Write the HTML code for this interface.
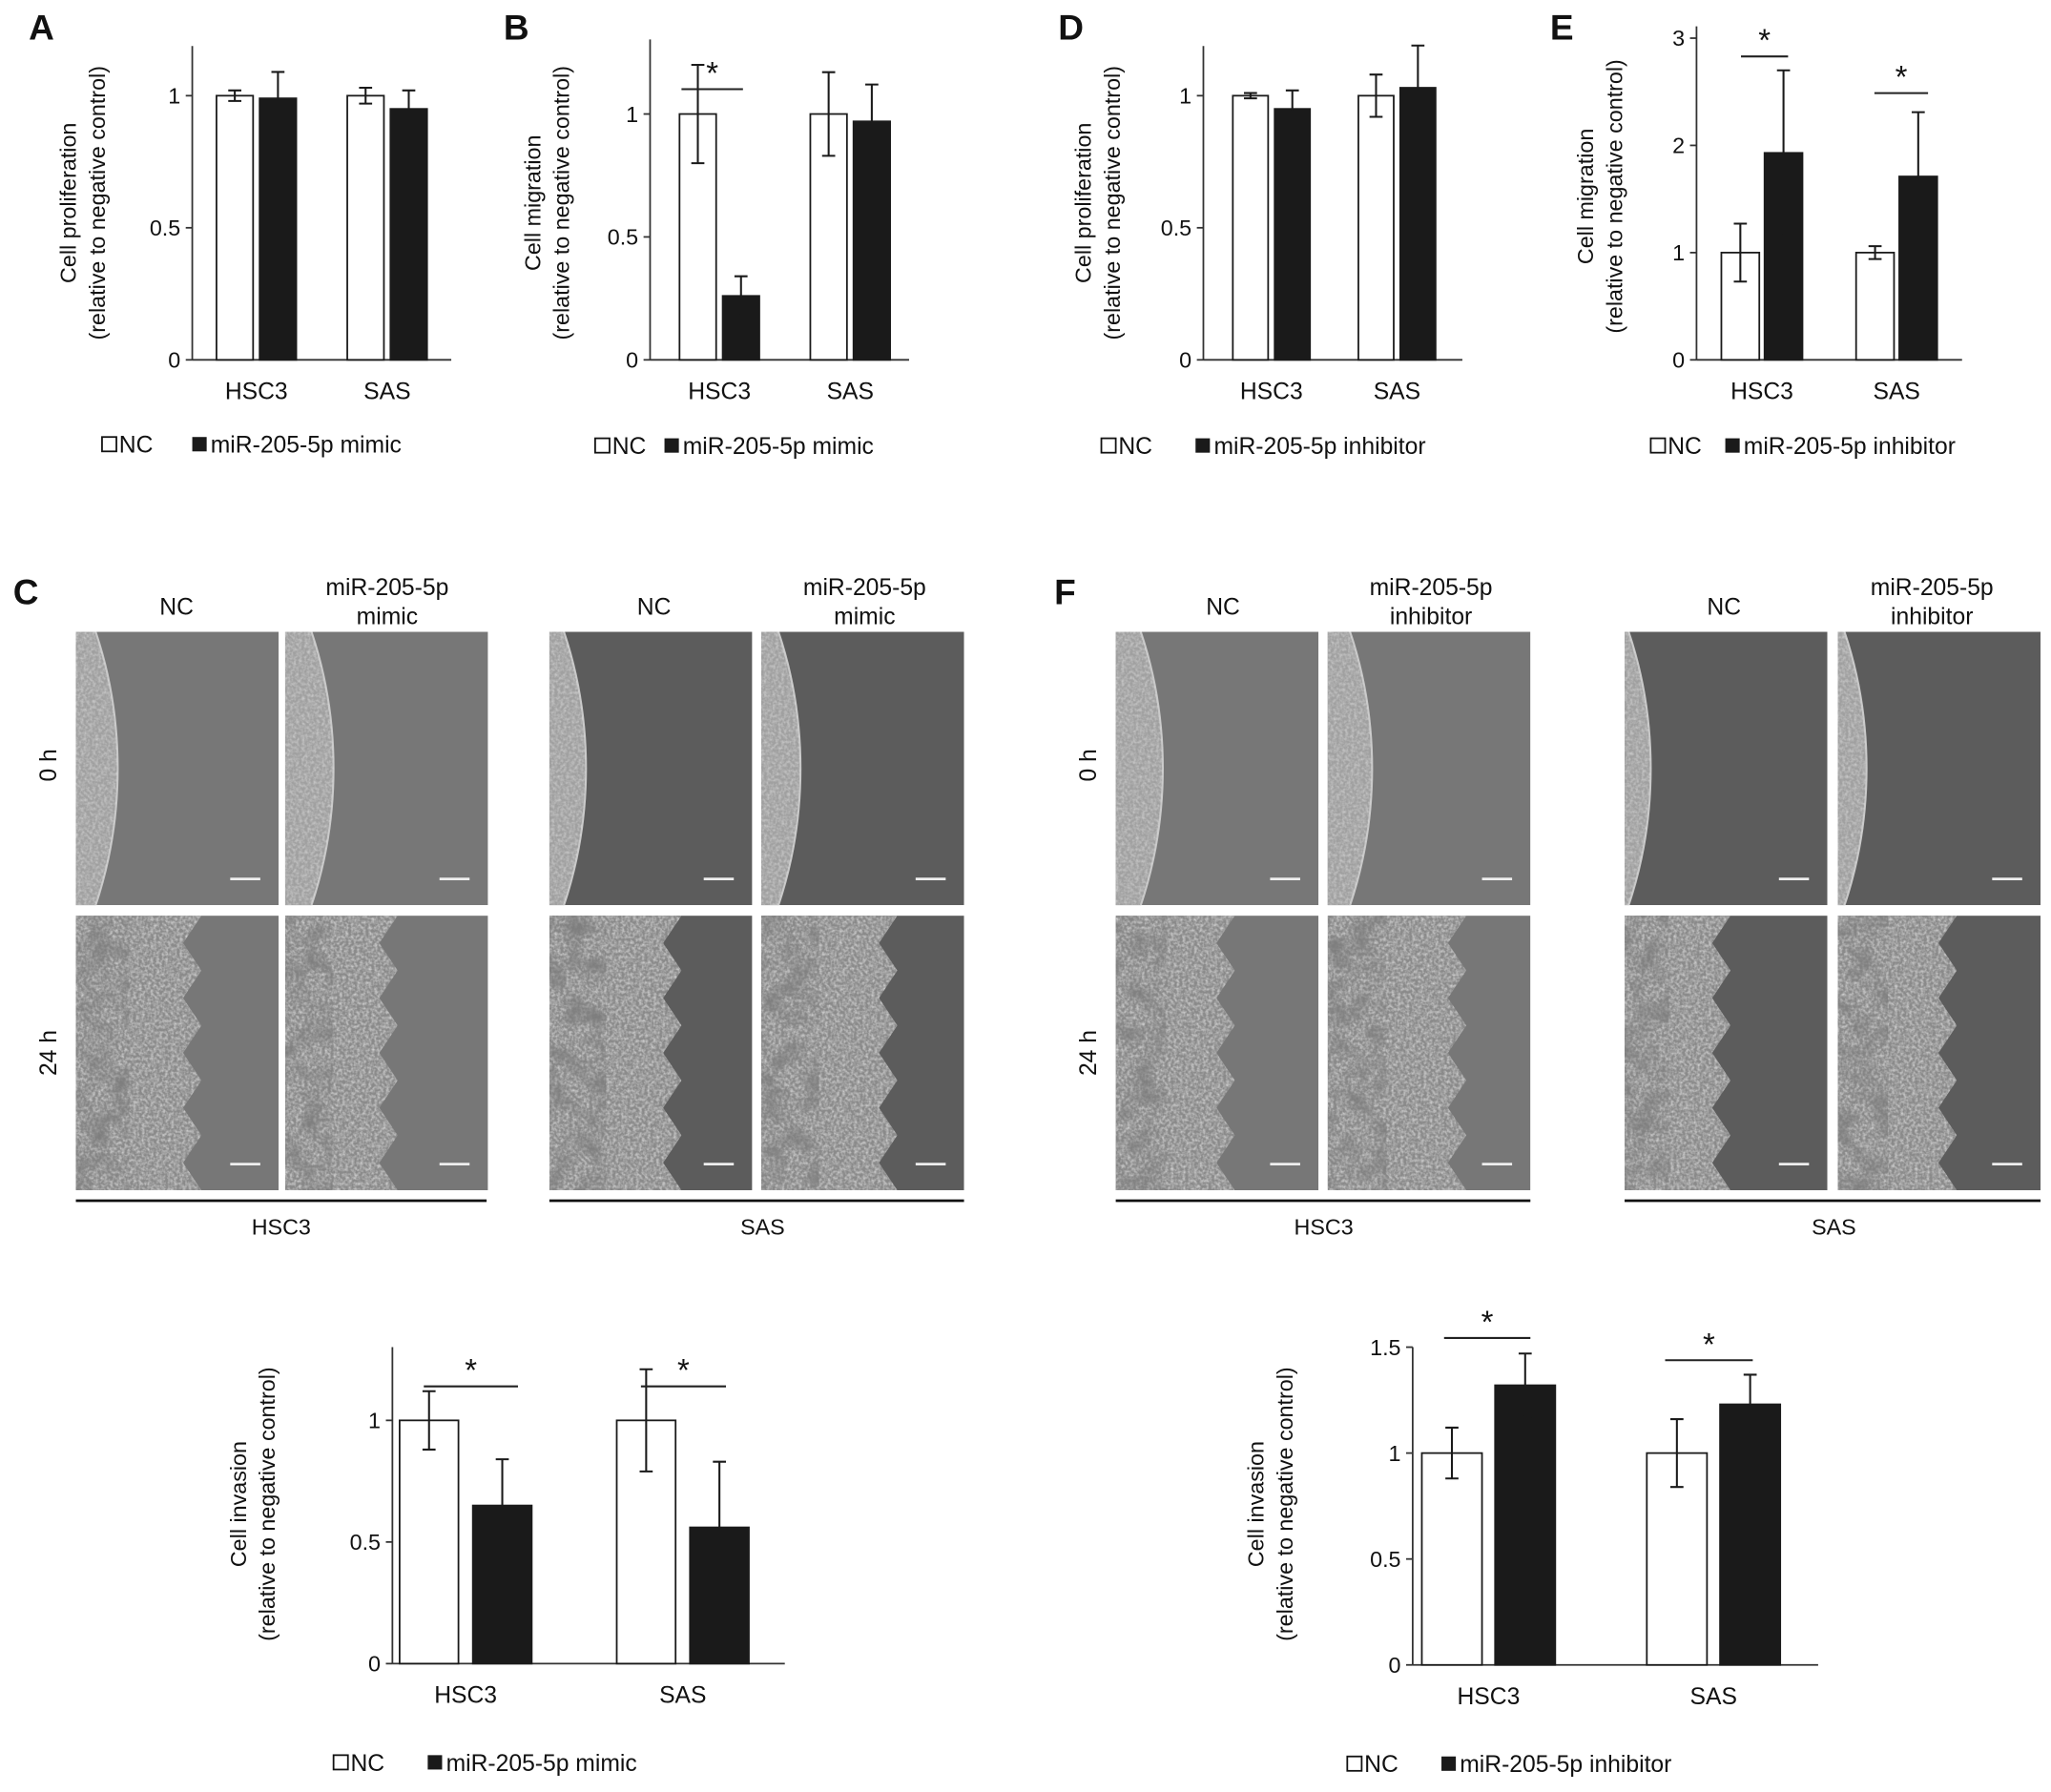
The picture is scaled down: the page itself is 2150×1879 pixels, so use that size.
<!DOCTYPE html>
<html><head><meta charset="utf-8"><style>
html,body{margin:0;padding:0;background:#fff}
svg{display:block}
text{font-family:"Liberation Sans",Arial,sans-serif;fill:#111}
</style></head><body>
<svg id="fig" width="2150" height="1879" viewBox="0 0 1568 1370" xmlns="http://www.w3.org/2000/svg">
<defs>
<filter id="noise" x="0" y="0" width="100%" height="100%">
<feTurbulence type="fractalNoise" baseFrequency="0.45" numOctaves="2" seed="3"/>
<feColorMatrix type="matrix" values="0 0 0 0 0.75  0 0 0 0 0.75  0 0 0 0 0.75  1.6 0 0 0 -0.55"/>
</filter>
<filter id="noise2" x="0" y="0" width="100%" height="100%">
<feTurbulence type="fractalNoise" baseFrequency="0.06" numOctaves="3" seed="7"/>
<feColorMatrix type="matrix" values="0 0 0 0 0.2  0 0 0 0 0.2  0 0 0 0 0.2  2.2 0 0 0 -0.9"/>
</filter>
</defs>
<g id="root"></g>
</svg>
<script>
// ---- data ----
const categories = ["HSC3","SAS"];
const aNC = [1.0, 1.0], aNCerr = [0.02, 0.03];
const aMimic = [0.99, 0.95], aMimicErr = [0.10, 0.07];
const bNC = [1.0, 1.0], bNCerr = [0.20, 0.17];
const bMimic = [0.26, 0.97], bMimicErr = [0.08, 0.15];
const dNC = [1.0, 1.0], dNCerr = [0.01, 0.08];
const dInh = [0.95, 1.03], dInhErr = [0.07, 0.16];
const eNC = [1.0, 1.0], eNCerr = [0.27, 0.06];
const eInh = [1.93, 1.71], eInhErr = [0.77, 0.60];
const cNC = [1.0, 1.0], cNCerr = [0.12, 0.21];
const cMimic = [0.65, 0.56], cMimicErr = [0.19, 0.27];
const fNC = [1.0, 1.0], fNCerr = [0.12, 0.16];
const fInh = [1.32, 1.23], fInhErr = [0.15, 0.14];
const ticksA = [0, 0.5, 1], ticksE = [0, 1, 2, 3], ticksF = [0, 0.5, 1, 1.5];

const NS = "http://www.w3.org/2000/svg";
const root = document.getElementById("root");
function el(tag, attrs, parent, txt){
  const e = document.createElementNS(NS, tag);
  for (const k in attrs) e.setAttribute(k, attrs[k]);
  if (txt !== undefined) e.textContent = txt;
  (parent || root).appendChild(e);
  return e;
}

function chart(cfg){
  const g = el("g", {});
  
  
  const y = v => cfg.y0 - v * cfg.unit;
  const ax = el("g", {}, g);
  
  
  el("line", {x1:cfg.ax, y1:cfg.top, x2:cfg.ax, y2:cfg.y0, stroke:"#333", "stroke-width":1.3}, ax);
  cfg.ticks.forEach(t=>{
    el("line", {x1:cfg.ax-5, y1:y(t), x2:cfg.ax, y2:y(t), stroke:"#333", "stroke-width":1.3}, ax);
    const tl = el("text", {x:cfg.ax-9, y:y(t)+6, "text-anchor":"end", "font-size":cfg.fs}, ax, String(t));
    
    
  });
  const xa = el("line", {x1:cfg.ax, y1:cfg.y0, x2:cfg.xend, y2:cfg.y0, stroke:"#333", "stroke-width":1.3}, g);
  
  
  const tt = el("text", {transform:`translate(${cfg.tx},${cfg.ty}) rotate(-90)`, "text-anchor":"middle", "font-size":cfg.fs}, g);
  
  
  el("tspan", {x:0, dy:0}, tt, cfg.title);
  el("tspan", {x:0, dy:cfg.fs*1.3}, tt, "(relative to negative control)");
  categories.forEach((c,i)=>{
    const cx = cfg.cat[i];
    [[cfg.nc, cfg.ncErr, "#fff", -1, "nc"], [cfg.tr, cfg.trErr, "#1a1a1a", 1, "treat"]].forEach(([vals, errs, fill, side, nm])=>{
      const x0 = side < 0 ? cx - cfg.gap/2 - cfg.bw : cx + cfg.gap/2;
      const b = el("rect", {x:x0, y:y(vals[i]), width:cfg.bw, height:cfg.y0 - y(vals[i]), fill:fill, stroke:"#1a1a1a", "stroke-width":1.3}, g);
      
      
      const mx = x0 + cfg.bw/2, hi = y(vals[i]+errs[i]), lo = y(vals[i]-errs[i]);
      const eb = el("path", {d:`M${mx},${hi}V${lo}M${mx-5},${hi}H${mx+5}M${mx-5},${lo}H${mx+5}`, stroke:"#1a1a1a", "stroke-width":1.5, fill:"none"}, g);
      
      
    });
    const cl = el("text", {x:cx, y:cfg.y0 + cfg.fs + 13, "text-anchor":"middle", "font-size":cfg.fs+1}, g, c);
    
    
  });
  (cfg.stars||[]).forEach(s=>{
    const sg = el("g", {}, g);
    
    
    el("line", {x1:s[0], y1:s[2], x2:s[1], y2:s[2], stroke:"#222", "stroke-width":1.5}, sg);
    el("text", {x:(s[0]+s[1])/2, y:s[2]-4, "text-anchor":"middle", "font-size":24}, sg, "*");
  });
  const lg = el("g", {}, g);
  
  
  const lx = cfg.lx, ly = cfg.ly;
  el("rect", {x:lx, y:ly-12, width:11, height:11, fill:"#fff", stroke:"#111", "stroke-width":1.3}, lg);
  el("text", {x:lx+13, y:ly, "font-size":cfg.fs+1}, lg, "NC");
  el("rect", {x:lx+cfg.lgap, y:ly-12, width:11, height:11, fill:"#1a1a1a"}, lg);
  el("text", {x:lx+cfg.lgap+14, y:ly, "font-size":cfg.fs+1}, lg, cfg.legend);
}

chart({name:"chart-a-proliferation-mimic", ax:147, top:35, y0:275, unit:202, ticks:ticksA, xend:345, cat:[196,296], bw:28, gap:5,
  nc:aNC, ncErr:aNCerr, tr:aMimic, trErr:aMimicErr, title:"Cell proliferation", tx:58, ty:155, fs:17,
  lx:78, ly:346, lgap:69, legend:"miR-205-5p mimic"});
chart({name:"chart-b-migration-mimic", ax:497, top:30, y0:275, unit:188, ticks:ticksA, xend:695, cat:[550,650], bw:28, gap:5,
  nc:bNC, ncErr:bNCerr, tr:bMimic, trErr:bMimicErr, title:"Cell migration", tx:413, ty:155, fs:17,
  lx:455, ly:347, lgap:53, legend:"miR-205-5p mimic", stars:[[521,568,68]]});
chart({name:"chart-d-proliferation-inhibitor", ax:920, top:35, y0:275, unit:202, ticks:ticksA, xend:1118, cat:[972,1068], bw:27, gap:5,
  nc:dNC, ncErr:dNCerr, tr:dInh, trErr:dInhErr, title:"Cell proliferation", tx:834, ty:155, fs:17,
  lx:842, ly:347, lgap:72, legend:"miR-205-5p inhibitor"});
chart({name:"chart-e-migration-inhibitor", ax:1297, top:20, y0:275, unit:82, ticks:ticksE, xend:1500, cat:[1347,1450], bw:29, gap:4,
  nc:eNC, ncErr:eNCerr, tr:eInh, trErr:eInhErr, title:"Cell migration", tx:1218, ty:150, fs:17,
  lx:1262, ly:347, lgap:57, legend:"miR-205-5p inhibitor", stars:[[1331,1367,43],[1433,1474,71]]});
chart({name:"chart-c-invasion-mimic", ax:300, top:1030, y0:1272, unit:186, ticks:ticksA, xend:600, cat:[356,522], bw:45, gap:11,
  nc:cNC, ncErr:cNCerr, tr:cMimic, trErr:cMimicErr, title:"Cell invasion", tx:188, ty:1150, fs:17,
  lx:255, ly:1354, lgap:72, legend:"miR-205-5p mimic", stars:[[324,396,1060],[490,555,1060]]});
chart({name:"chart-f-invasion-inhibitor", ax:1080, top:1030, y0:1273, unit:162, ticks:ticksF, xend:1390, cat:[1138,1310], bw:46, gap:10,
  nc:fNC, ncErr:fNCerr, tr:fInh, trErr:fInhErr, title:"Cell invasion", tx:966, ty:1150, fs:17,
  lx:1030, ly:1355, lgap:72, legend:"miR-205-5p inhibitor", stars:[[1104,1170,1023],[1273,1340,1040]]});

[["A",22,30],["B",385,30],["D",809,30],["E",1185,30],["C",10,462],["F",806,462]].forEach(([t,x,yy])=>{
  const p = el("text", {x:x, y:yy, "font-size":27, "font-weight":"bold"}, root, t);
  
  
});

let cid = 0;
function micro(x0, yy, w, h, base, kind, edge){
  const g = el("g", {});
  
  
  const id = "clip" + (cid++);
  const cp = el("clipPath", {id:id}, g);
  el("rect", {x:x0, y:yy, width:w, height:h}, cp);
  const inner = el("g", {"clip-path":`url(#${id})`}, g);
  el("rect", {x:x0, y:yy, width:w, height:h, fill:base}, inner);
  const cy = yy + h/2;
  if (kind === 0){
    el("ellipse", {cx:x0+edge-200, cy:cy, rx:200, ry:260, fill:"#a0a0a0", stroke:"#c8c8c8", "stroke-width":1.5}, inner);
    const id2 = "clip" + (cid++);
    const cp2 = el("clipPath", {id:id2}, g);
    el("ellipse", {cx:x0+edge-200, cy:cy, rx:200, ry:260}, cp2);
    el("rect", {x:x0, y:yy, width:w, height:h, filter:"url(#noise)", opacity:0.7, "clip-path":`url(#${id2})`}, inner);
  } else {
    const id2 = "clip" + (cid++);
    const cp2 = el("clipPath", {id:id2}, g);
    let d = `M${x0},${yy}`;
    for (let k=0;k<=10;k++){ const py = yy + h*k/10; const px = x0 + edge + ((k%2)?-8:6); d += `L${px},${py}`; }
    d += `L${x0},${yy+h}Z`;
    el("path", {d:d}, cp2);
    el("rect", {x:x0, y:yy, width:w, height:h, fill:"#8a8a8a", "clip-path":`url(#${id2})`}, inner);
    el("rect", {x:x0, y:yy, width:w, height:h, filter:"url(#noise)", opacity:0.9, "clip-path":`url(#${id2})`}, inner);
    el("rect", {x:x0, y:yy, width:edge*0.45, height:h, filter:"url(#noise2)", opacity:0.9}, inner);
  }
  el("line", {x1:x0+w-37, y1:yy+h-20, x2:x0+w-14, y2:yy+h-20, stroke:"#eee", "stroke-width":2}, inner);
}
const HSC = "#777777", SASc = "#5c5c5c";
[[58,HSC],[218,HSC],[420,SASc],[582,SASc],[853,HSC],[1015,HSC],[1242,SASc],[1405,SASc]].forEach(([x,b],i)=>{
  micro(x, 483, 155, 209, b, 0, [32,37,28,30,36,34,20,22][i]);
  micro(x, 700, 155, 210, b, 1, [90,80,95,98,85,100,75,85][i]);
});
function hdr(x, lines, name){
  const t = el("text", {x:x, y:lines.length===1?470:455, "text-anchor":"middle", "font-size":18});
  
  
  lines.forEach((l,i)=>el("tspan", {x:x, dy:i?22:0}, t, l));
}
hdr(135,["NC"],"column-header-nc"); hdr(296,["miR-205-5p","mimic"],"column-header-mimic");
hdr(500,["NC"],"column-header-nc"); hdr(661,["miR-205-5p","mimic"],"column-header-mimic");
hdr(935,["NC"],"column-header-nc"); hdr(1094,["miR-205-5p","inhibitor"],"column-header-inhibitor");
hdr(1318,["NC"],"column-header-nc"); hdr(1477,["miR-205-5p","inhibitor"],"column-header-inhibitor");
[[37,585,"0 h"],[37,805,"24 h"],[832,585,"0 h"],[832,805,"24 h"]].forEach(([x,yy,t])=>{
  const r = el("text", {transform:`translate(${x+6},${yy}) rotate(-90)`, "text-anchor":"middle", "font-size":18}, root, t);
  
  
});
[[58,372,215,"HSC3"],[420,737,583,"SAS"],[853,1170,1012,"HSC3"],[1242,1560,1402,"SAS"]].forEach(([a,b,c,t])=>{
  const l = el("line", {x1:a, y1:918, x2:b, y2:918, stroke:"#111", "stroke-width":2});
  
  
  const tx = el("text", {x:c, y:944, "text-anchor":"middle", "font-size":17}, root, t);
  
  
});
</script>
</body></html>
